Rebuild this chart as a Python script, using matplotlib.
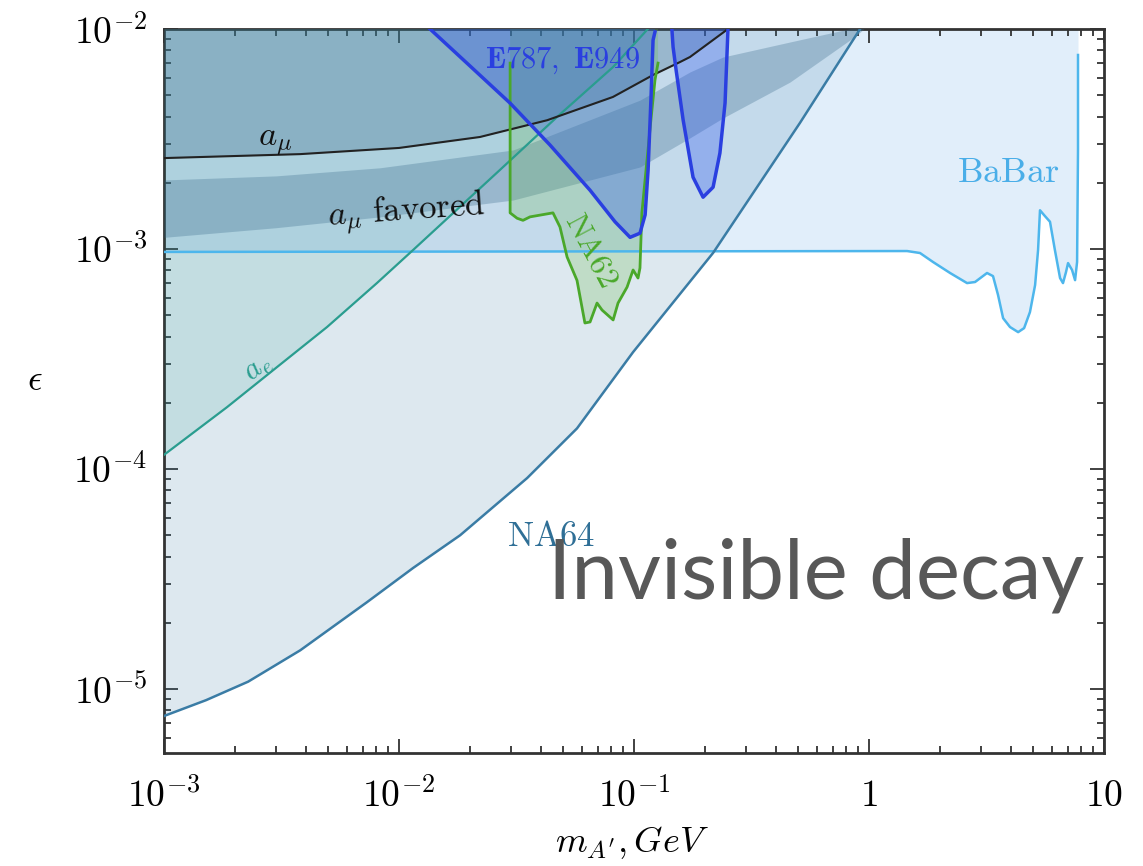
import matplotlib
matplotlib.use('Agg')
import matplotlib.pyplot as plt

plt.rcParams['mathtext.fontset'] = 'cm'

# NA64 invisible-decay limit (region above the curve is excluded)
na64_m = [1e-3, 1.51e-3, 2.28e-3, 3.8e-3, 7.3e-3, 0.01148, 0.0182, 0.0351, 0.0572, 0.0991, 0.217, 0.508, 0.916, 1.2]
na64_eps = [7.54e-6, 8.9e-6, 1.08e-5, 1.50e-5, 2.48e-5, 3.55e-5, 5.0e-5, 9.1e-5, 1.53e-4, 3.4e-4, 9.6e-4, 3.74e-3, 1.0e-2, 1.6e-2]

# BaBar limit
babar_m = [1e-3, 1.452, 1.648, 1.872, 2.213, 2.613, 2.826, 3.178, 3.37, 3.54, 3.72, 3.98, 4.31,
           4.57, 4.84, 5.09, 5.24, 5.34, 5.61, 5.89, 6.18, 6.50, 6.69, 6.89, 7.03, 7.31, 7.53,
           7.68, 7.75, 7.75]
babar_eps = [9.7e-4, 9.79e-4, 9.59e-4, 8.73e-4, 7.78e-4, 7.0e-4, 7.08e-4, 7.78e-4, 7.53e-4,
             6.18e-4, 4.85e-4, 4.42e-4, 4.19e-4, 4.37e-4, 5.17e-4, 6.86e-4, 9.89e-4, 1.50e-3,
             1.41e-3, 1.33e-3, 9.89e-4, 7.38e-4, 7.0e-4, 7.86e-4, 8.63e-4, 8.03e-4, 7.22e-4,
             8.73e-4, 2.82e-3, 7.62e-3]

# electron g-2
ae_m = [1e-3, 1.853e-3, 3.03e-3, 4.94e-3, 8.05e-3, 0.01148, 0.0269, 0.047, 0.0815, 0.1135, 0.157]
ae_eps = [1.16e-4, 1.91e-4, 2.91e-4, 4.42e-4, 7.0e-4, 9.9e-4, 2.29e-3, 3.98e-3, 6.72e-3, 9.9e-3, 1.45e-2]

# muon g-2 exclusion line
amu_m = [1e-3, 3.8e-3, 0.01, 0.0221, 0.0427, 0.0813, 0.1205, 0.157, 0.173, 0.251, 0.35]
amu_eps = [2.59e-3, 2.70e-3, 2.88e-3, 3.23e-3, 3.85e-3, 4.91e-3, 6.18e-3, 7.08e-3, 7.46e-3, 1.0e-2, 1.3e-2]

# a_mu favored band
band_m = [1e-3, 3e-3, 8.3e-3, 0.0306, 0.106, 0.173, 0.239, 0.461, 0.889, 0.95]
band_hi = [2.06e-3, 2.15e-3, 2.34e-3, 2.82e-3, 4.75e-3, 6.38e-3, 7.46e-3, 8.73e-3, 1.02e-2, 1.05e-2]
band_lo = [1.13e-3, 1.25e-3, 1.40e-3, 1.67e-3, 2.36e-3, 3.2e-3, 3.94e-3, 5.74e-3, 9.39e-3, 1.0e-2]

# E787, E949 (two islands)
e949a_m = [0.01355, 0.02005, 0.02965, 0.0439, 0.065, 0.083, 0.0962, 0.106, 0.1115, 0.1148, 0.118, 0.1205, 0.1228]
e949a_eps = [1.0e-2, 6.79e-3, 4.61e-3, 2.97e-3, 1.85e-3, 1.33e-3, 1.13e-3, 1.18e-3, 1.43e-3, 2.29e-3, 4.76e-3, 8.9e-3, 9.7e-3]
e949b_m = [0.145, 0.1466, 0.151, 0.1618, 0.1783, 0.1967, 0.217, 0.232, 0.244, 0.251]
e949b_eps = [9.9e-3, 8.29e-3, 6.52e-3, 3.86e-3, 2.12e-3, 1.72e-3, 1.91e-3, 2.73e-3, 4.61e-3, 9.9e-3]

# NA62
na62_m = [0.0297, 0.0297, 0.0318, 0.0337, 0.0361, 0.0452, 0.0484, 0.0519, 0.0572, 0.0618, 0.065,
          0.0696, 0.0731, 0.0815, 0.0855, 0.0934, 0.0991, 0.104, 0.106, 0.108, 0.1125, 0.118,
          0.1228, 0.1265]
na62_eps = [7.0e-3, 1.46e-3, 1.38e-3, 1.35e-3, 1.40e-3, 1.46e-3, 1.26e-3, 9.2e-4, 7.2e-4, 4.61e-4,
            4.66e-4, 5.68e-4, 5.28e-4, 4.76e-4, 5.68e-4, 6.71e-4, 8.03e-4, 7.38e-4, 8.2e-4,
            1.46e-3, 2.29e-3, 3.86e-3, 5.86e-3, 7.0e-3]

x_ticks = [1e-3, 1e-2, 1e-1, 1, 10]
x_tick_labels = [r'$10^{-3}$', r'$10^{-2}$', r'$10^{-1}$', r'$1$', r'$10$']
y_ticks = [1e-5, 1e-4, 1e-3, 1e-2]
y_tick_labels = [r'$10^{-5}$', r'$10^{-4}$', r'$10^{-3}$', r'$10^{-2}$']

TOP = 1.0

fig = plt.figure(figsize=(11.43, 8.66), dpi=100)
ax = fig.add_axes([0.1435, 0.1305, 0.8224, 0.836])
ax.set_xscale('log')
ax.set_yscale('log')
ax.set_xlim(1e-3, 10)
ax.set_ylim(5.12e-6, 1e-2)

# filled regions, layered with transparency
ax.fill_between(babar_m, babar_eps, TOP, color='#4f9be2', alpha=0.17, lw=0, zorder=1)
ax.fill_between(na64_m, na64_eps, TOP, color='#3a7ca5', alpha=0.17, lw=0, zorder=2)
ax.fill_between(ae_m, ae_eps, TOP, color='#2a9d8f', alpha=0.14, lw=0, zorder=3)
ax.fill_between(amu_m, amu_eps, TOP, color='#37698a', alpha=0.3, lw=0, zorder=4)
ax.fill_between(band_m, band_lo, band_hi, color='#37698a', alpha=0.3, lw=0, zorder=4)
ax.fill(na62_m + [na62_m[-1], na62_m[0]], na62_eps + [TOP, TOP],
        color='#5ab43c', alpha=0.22, lw=0, zorder=5)
ax.fill(e949a_m + [e949a_m[-1], e949a_m[0]], e949a_eps + [TOP, TOP],
        color='#2850f0', alpha=0.3, lw=0, zorder=6)
ax.fill(e949b_m + [e949b_m[-1], e949b_m[0]], e949b_eps + [TOP, TOP],
        color='#2850f0', alpha=0.3, lw=0, zorder=6)

# boundary lines
ax.plot(babar_m, babar_eps, color='#4db6ec', lw=1.8, zorder=7)
ax.plot(na64_m, na64_eps, color='#3a7ca5', lw=1.8, zorder=7)
ax.plot(ae_m, ae_eps, color='#2a9d8f', lw=1.6, zorder=7)
ax.plot(amu_m, amu_eps, color='#222222', lw=1.5, zorder=7)
ax.plot(na62_m, na62_eps, color='#4aa82a', lw=2.0, zorder=8)
ax.plot(e949a_m, e949a_eps, color='#2a3fe0', lw=2.5, zorder=8)
ax.plot(e949b_m, e949b_eps, color='#2a3fe0', lw=2.5, zorder=8)

# labels
ax.text(2.96e-3, 3.06e-3, r'$a_\mu$', fontsize=25, ha='center', va='center', color='#111111', zorder=10)
ax.text(0.0108, 1.46e-3, r'$a_\mu\ \mathrm{favored}$', fontsize=25, ha='center', va='center',
        rotation=4, color='#111111', zorder=10)
ax.text(2.51e-3, 2.88e-4, r'$a_e$', fontsize=22, ha='center', va='center', rotation=38,
        color='#2a9d8f', zorder=10)
ax.text(0.0494, 7.2e-3, r'$\mathbf{E787,\ E949}$', fontsize=22, ha='center', va='center',
        color='#2a3fe0', zorder=10)
ax.text(0.0662, 9.9e-4, r'$\mathrm{NA62}$', fontsize=23, ha='center', va='center', rotation=-62,
        color='#4aa82a', zorder=10)
ax.text(0.0444, 4.96e-5, r'$\mathrm{NA64}$', fontsize=25, ha='center', va='center',
        color='#2f6f96', zorder=10)
ax.text(3.9, 2.24e-3, r'$\mathrm{BaBar}$', fontsize=26, ha='center', va='center',
        color='#4aaee8', zorder=10)

fig.text(0.949, 0.336, 'Invisible decay', fontsize=60, family='Lato', color='#585858',
         ha='right', va='center', zorder=20)

# axes styling
ax.set_xticks(x_ticks)
ax.set_xticklabels(x_tick_labels)
ax.set_yticks(y_ticks)
ax.set_yticklabels(y_tick_labels)
ax.tick_params(which='both', direction='in', top=True, right=True, colors='#333333', width=1.3)
ax.tick_params(which='major', length=10, labelsize=27)
ax.tick_params(which='minor', length=5)
ax.tick_params(axis='x', which='major', pad=18, labelcolor='black')
ax.tick_params(axis='y', which='major', pad=12, labelcolor='black')
for spine in ax.spines.values():
    spine.set_linewidth(2)
    spine.set_color('#333333')

fig.text(0.0306, 0.561, r'$\epsilon$', fontsize=26, ha='center', va='center')
fig.text(0.553, 0.027, r"$m_{A'}, GeV$", fontsize=26, ha='center', va='center')

plt.savefig('out.png', dpi=100)
